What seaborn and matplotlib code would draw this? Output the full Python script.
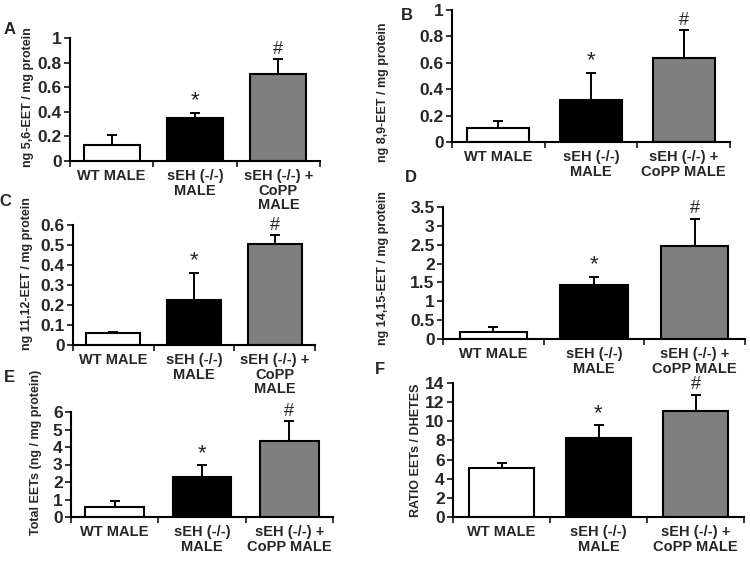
import numpy as np
import matplotlib
matplotlib.use('Agg')
import matplotlib.pyplot as plt
import seaborn as sns

sns.set_style('ticks')
plt.rcParams['font.family'] = ['Liberation Sans', 'DejaVu Sans']

# group labels (they wrap differently from panel to panel)
lab_3line = ['WT MALE', 'sEH (-/-)\nMALE', 'sEH (-/-) +\nCoPP\nMALE']
lab_2line = ['WT MALE', 'sEH (-/-)\nMALE', 'sEH (-/-) +\nCoPP MALE']
bar_colors = ['white', 'black', '#7f7f7f']
marks = ['', '*', '#']
mark_size = {'*': 16, '#': 13}

# means and upper SD
a_mean = [0.13, 0.352, 0.705]
a_err = [0.078, 0.04, 0.125]
b_mean = [0.106, 0.317, 0.633]
b_err = [0.051, 0.207, 0.215]
c_mean = [0.062, 0.223, 0.505]
c_err = [0.005, 0.139, 0.045]
d_mean = [0.185, 1.425, 2.47]
d_err = [0.13, 0.225, 0.72]
e_mean = [0.6, 2.31, 4.33]
e_err = [0.29, 0.64, 1.14]
f_mean = [5.1, 8.3, 11.1]
f_err = [0.57, 1.26, 1.68]

W, H = 750, 562
fig = plt.figure(figsize=(W / 100, H / 100), dpi=100)

# letter, ylabel, labels, means, errs, ymax, ystep, axes box px (l, r, top, bottom),
# ylabel centre px, letter px
panels = [
    ('A', 'ng 5,6-EET / mg protein', lab_3line, a_mean, a_err, 1.0, 0.2,
     (70, 320, 38, 161), (28, 97), (10, 29)),
    ('B', 'ng 8,9-EET / mg protein', lab_2line, b_mean, b_err, 1.0, 0.2,
     (452, 730, 10, 142), (383, 92), (407, 15)),
    ('C', 'ng 11,12-EET / mg protein', lab_3line, c_mean, c_err, 0.6, 0.1,
     (73, 315, 225, 345), (27, 274), (5, 201)),
    ('D', 'ng 14,15-EET / mg protein', lab_2line, d_mean, d_err, 3.5, 0.5,
     (443, 745, 207, 339), (383, 268), (411, 178)),
    ('E', 'Total EETs (ng / mg protein)', lab_2line, e_mean, e_err, 6, 1,
     (71, 333, 412, 517), (36, 452), (9, 377)),
    ('F', 'RATIO EETs / DHETES', lab_2line, f_mean, f_err, 14, 2,
     (453, 744, 383, 517), (416, 450), (380, 370)),
]

for letter, ylab, labels, means, errs, ymax, ystep, box, ylpos, letpos in panels:
    l, r, t, b = box
    ax = fig.add_axes([l / W, 1 - b / H, (r - l) / W, (b - t) / H])
    sns.barplot(x=labels, y=means, hue=labels, palette=bar_colors, legend=False,
                edgecolor='black', linewidth=1.5, width=0.67, errorbar=None,
                ax=ax)
    ax.errorbar(range(3), means, yerr=[np.zeros(3), errs], fmt='none',
                ecolor='black', elinewidth=1.4, capsize=3.5, capthick=1.4)
    for i, m in enumerate(marks):
        if m:
            ax.annotate(m, (i, means[i] + errs[i]), xytext=(0, 1),
                        textcoords='offset points', ha='center', va='bottom',
                        fontsize=mark_size[m], annotation_clip=False)

    ax.set_xlim(-0.5, 2.5)
    ax.set_ylim(0, ymax)
    ax.set_yticks(np.round(np.arange(0, ymax + ystep / 2, ystep), 2))
    ax.yaxis.set_major_formatter(matplotlib.ticker.FormatStrFormatter('%g'))
    ax.set_xticks([0, 1, 2])
    ax.set_xticklabels(labels, fontsize=10.5, fontweight='bold', linespacing=1.05)
    ax.set_xticks([-0.5, 0.5, 1.5, 2.5], minor=True)
    ax.tick_params(axis='x', which='major', length=0, pad=6)
    ax.tick_params(axis='x', which='minor', length=4, width=1.3, direction='out')
    ax.tick_params(axis='y', length=4, width=1.3, direction='out', pad=2,
                   labelsize=12.5)
    for lbl in ax.get_yticklabels():
        lbl.set_fontweight('bold')
    sns.despine(ax=ax)
    for s in ['left', 'bottom']:
        ax.spines[s].set_linewidth(1.5)
        ax.spines[s].set_color('black')

    ax.set_ylabel(ylab, fontsize=9, fontweight='bold', va='center')
    ax.yaxis.set_label_coords(ylpos[0] / W, 1 - ylpos[1] / H,
                              transform=fig.transFigure)
    fig.text(letpos[0] / W, 1 - letpos[1] / H, letter, fontsize=12,
             fontweight='bold', ha='center', va='center')

fig.savefig('out.png', dpi=100)
